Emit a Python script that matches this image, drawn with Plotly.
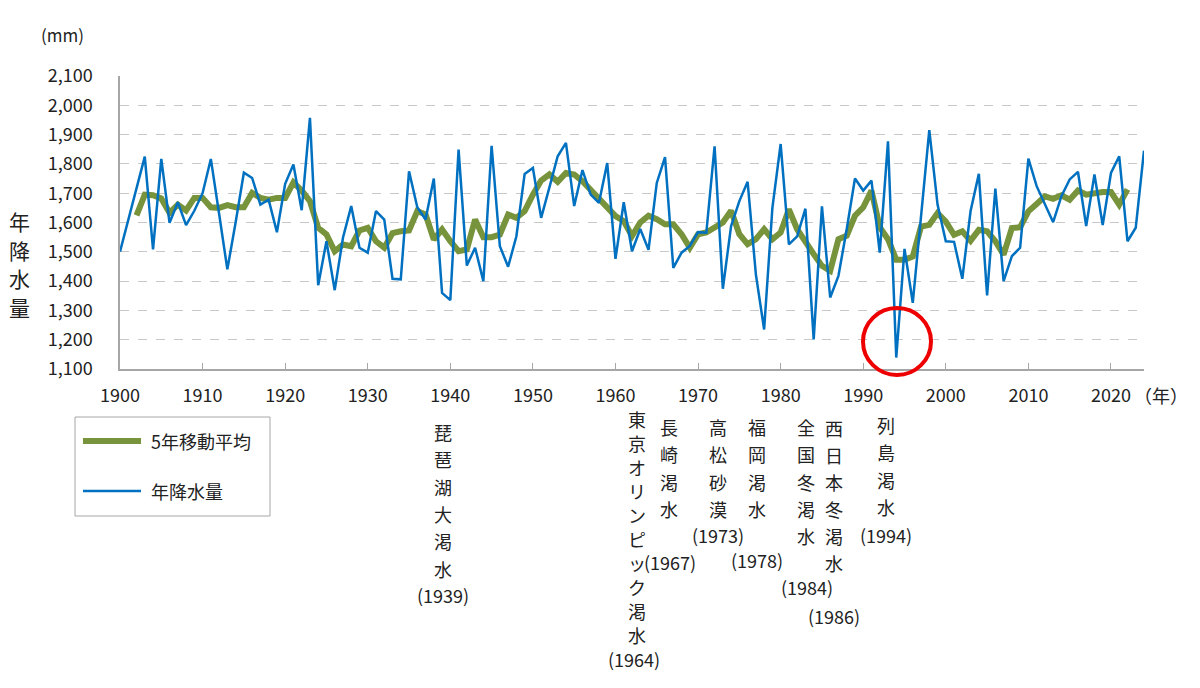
"""
年降水量の経年変化と主な渇水（1900-2024）
"""
import plotly.graph_objects as go

# 年降水量 (mm) 1900-2024
years = list(range(1900, 2025))
rain = [
    1500, 1610, 1715, 1825, 1508, 1817, 1599, 1669, 1591, 1640,
    1700, 1817, 1630, 1440, 1600, 1770, 1752, 1661, 1678, 1567,
    1732, 1798, 1642, 1957, 1386, 1536, 1369, 1548, 1656, 1514,
    1497, 1639, 1610, 1408, 1406, 1775, 1652, 1610, 1750, 1360,
    1335, 1849, 1453, 1514, 1400, 1862, 1519, 1449, 1553, 1766,
    1786, 1616, 1720, 1826, 1872, 1656, 1779, 1695, 1667, 1803,
    1476, 1669, 1502, 1578, 1507, 1735, 1823, 1445, 1497, 1520,
    1567, 1565, 1860, 1374, 1588, 1673, 1739, 1423, 1235, 1650,
    1868, 1525, 1553, 1647, 1201, 1655, 1344, 1418, 1577, 1750,
    1709, 1743, 1497, 1877, 1139, 1510, 1326, 1620, 1915, 1661,
    1536, 1534, 1408, 1639, 1766, 1351, 1716, 1400, 1485, 1514,
    1818, 1724, 1661, 1601, 1690, 1747, 1773, 1588, 1764, 1591,
    1769, 1826, 1536, 1582, 1845,
]

# 5年移動平均 (mm) 1902-2022
ma_years = list(range(1902, 2023))
ma5 = [
    1624, 1695, 1693, 1682, 1633, 1661, 1641, 1684,
    1684, 1652, 1650, 1659, 1652, 1652, 1701, 1684, 1678, 1684,
    1684, 1737, 1709, 1673, 1582, 1559, 1502, 1525, 1519, 1573,
    1582, 1536, 1514, 1564, 1570, 1573, 1639, 1627, 1542, 1576,
    1536, 1502, 1508, 1610, 1550, 1550, 1559, 1627, 1616, 1639,
    1695, 1743, 1764, 1739, 1769, 1764, 1741, 1712, 1678, 1650,
    1622, 1605, 1554, 1600, 1623, 1611, 1594, 1594, 1560, 1514,
    1560, 1566, 1583, 1600, 1640, 1560, 1526, 1543, 1577, 1543,
    1566, 1645, 1577, 1532, 1492, 1452, 1435, 1543, 1555, 1623,
    1652, 1709, 1584, 1543, 1473, 1473, 1484, 1586, 1592, 1632,
    1603, 1558, 1570, 1538, 1575, 1570, 1536, 1490, 1581, 1584,
    1638, 1663, 1689, 1681, 1693, 1678, 1709, 1695, 1701, 1704,
    1704, 1661, 1713,
]

# 主な渇水
droughts = ["琵琶湖大渇水", "東京オリンピック渇水", "長崎渇水", "高松砂漠",
            "福岡渇水", "全国冬渇水", "西日本冬渇水", "列島渇水"]
drought_years = [1939, 1964, 1967, 1973, 1978, 1984, 1986, 1994]

FONT = "Noto Sans CJK JP"
TXT = "#222222"
PAD = 8  # ページ本体の余白
W, H = 1200 - 2 * PAD, 688 - 2 * PAD
L, R, T, B = 120, 1144, 76, 369  # 画面上のプロット領域 (px)


def px(x):
    return (x - L) / (R - L)


def py(y):
    return (B - y) / (B - T)


fig = go.Figure()

fig.add_trace(go.Scatter(
    x=ma_years, y=ma5, mode="lines", name="5年移動平均",
    line=dict(color="#77933C", width=6),
))
fig.add_trace(go.Scatter(
    x=years, y=rain, mode="lines", name="年降水量",
    line=dict(color="#0070C0", width=2.5),
))

annotations = []
shapes = []


def text(s, x, y, size=18, xanchor="center"):
    annotations.append(dict(
        text=s, x=px(x), y=py(y), xref="paper", yref="paper",
        xanchor=xanchor, yanchor="middle", showarrow=False,
        font=dict(family=FONT, size=size, color=TXT),
    ))


# 渇水ラベル（縦書き）: x中心, 1文字目y, 行送り, 年のx, 年のy
placement = [
    (443, 432, 27.3, 443, 595),
    (637, 419, 24.0, 634, 659),
    (669, 427, 27.3, 670, 562),
    (718, 427, 27.3, 718, 535),
    (757, 427, 27.3, 757, 560),
    (806, 427, 27.3, 807, 587),
    (834, 428, 27.0, 834, 616),
    (886, 425, 27.3, 886, 535),
]
for name, yr, (cx, y0, step, yx, yy) in zip(droughts, drought_years, placement):
    for i, ch in enumerate(name):
        text(ch, cx, y0 + i * step)
    text(f"({yr})", yx, yy)

# 縦軸タイトル・単位
for i, ch in enumerate("年降水量"):
    text(ch, 19, 221 + i * 28.5, size=21)
text("(mm)", 62, 35, size=17)
text("（年）", 1161, 395, size=18)

# 凡例
shapes.append(dict(type="rect", xref="paper", yref="paper",
                   x0=px(75), x1=px(270), y0=py(417), y1=py(516),
                   line=dict(color="#a6a6a6", width=1), fillcolor="white"))
shapes.append(dict(type="line", xref="paper", yref="paper",
                   x0=px(83), x1=px(141), y0=py(441), y1=py(441),
                   line=dict(color="#77933C", width=6)))
shapes.append(dict(type="line", xref="paper", yref="paper",
                   x0=px(83), x1=px(141), y0=py(491), y1=py(491),
                   line=dict(color="#0070C0", width=2.5)))
text("5年移動平均", 149, 441, xanchor="left")
text("年降水量", 149, 491, xanchor="left")

# 1994年の赤丸
shapes.append(dict(type="circle", xref="paper", yref="paper",
                   x0=px(863), x1=px(931), y0=py(375), y1=py(308),
                   line=dict(color="#ee0000", width=4)))

fig.update_layout(
    width=W, height=H,
    margin=dict(l=L - PAD, r=W - (R - PAD), t=T - PAD, b=H - (B - PAD)),
    plot_bgcolor="white", paper_bgcolor="white",
    showlegend=False,
    font=dict(family=FONT, size=18, color=TXT),
    annotations=annotations,
    shapes=shapes,
)
fig.update_xaxes(
    range=[1900, 2024], dtick=10, tick0=1900,
    showgrid=False, zeroline=False,
    showline=True, linecolor="#a6a6a6", linewidth=1.5,
    ticks="inside", ticklen=6, tickcolor="#a6a6a6",
    ticklabelstandoff=10,
    tickfont=dict(family=FONT, size=18, color=TXT),
)
fig.update_yaxes(
    range=[1100, 2100], dtick=100, tick0=1100,
    tickformat=",d",
    showgrid=True, gridcolor="#c8c8c8", griddash="dash", gridwidth=1,
    zeroline=False,
    showline=True, linecolor="#a6a6a6", linewidth=1.5,
    ticks="", ticklabelstandoff=22,
    tickfont=dict(family=FONT, size=18, color=TXT),
)

fig.write_html("out.html")
